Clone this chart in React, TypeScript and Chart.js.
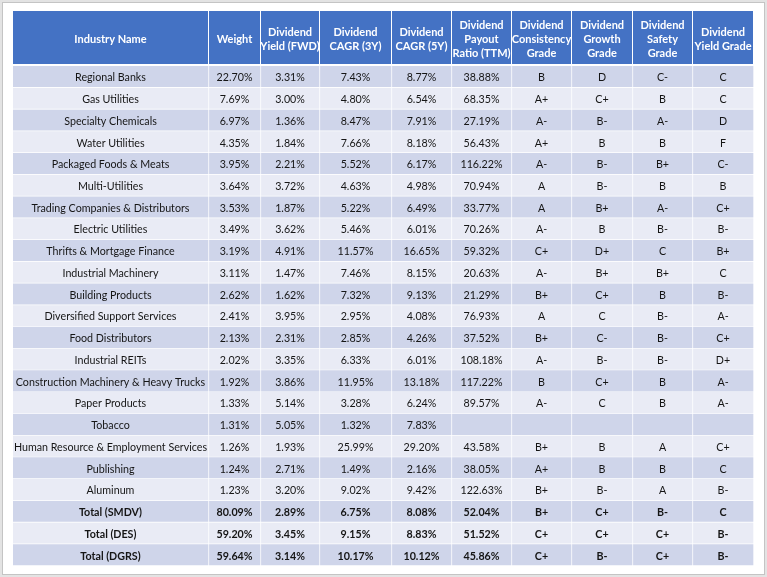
import React, { useEffect, useRef } from 'react';
import { Chart, registerables } from 'chart.js';

Chart.register(...registerables);

// ---------- data ----------
const headerLabels: string[][] = [
  ['Industry Name'],
  ['Weight'],
  ['Dividend', 'Yield (FWD)'],
  ['Dividend', 'CAGR (3Y)'],
  ['Dividend', 'CAGR (5Y)'],
  ['Dividend', 'Payout', 'Ratio (TTM)'],
  ['Dividend', 'Consistency', 'Grade'],
  ['Dividend', 'Growth', 'Grade'],
  ['Dividend', 'Safety', 'Grade'],
  ['Dividend', 'Yield Grade'],
];

const industries = [
  'Regional Banks',
  'Gas Utilities',
  'Specialty Chemicals',
  'Water Utilities',
  'Packaged Foods & Meats',
  'Multi-Utilities',
  'Trading Companies & Distributors',
  'Electric Utilities',
  'Thrifts & Mortgage Finance',
  'Industrial Machinery',
  'Building Products',
  'Diversified Support Services',
  'Food Distributors',
  'Industrial REITs',
  'Construction Machinery & Heavy Trucks',
  'Paper Products',
  'Tobacco',
  'Human Resource & Employment Services',
  'Publishing',
  'Aluminum',
  'Total (SMDV)',
  'Total (DES)',
  'Total (DGRS)',
];

const weights = [22.70, 7.69, 6.97, 4.35, 3.95, 3.64, 3.53, 3.49, 3.19, 3.11, 2.62, 2.41, 2.13, 2.02, 1.92, 1.33, 1.31, 1.26, 1.24, 1.23, 80.09, 59.20, 59.64];
const yieldFwd = [3.31, 3.00, 1.36, 1.84, 2.21, 3.72, 1.87, 3.62, 4.91, 1.47, 1.62, 3.95, 2.31, 3.35, 3.86, 5.14, 5.05, 1.93, 2.71, 3.20, 2.89, 3.45, 3.14];
const cagr3y = [7.43, 4.80, 8.47, 7.66, 5.52, 4.63, 5.22, 5.46, 11.57, 7.46, 7.32, 2.95, 2.85, 6.33, 11.95, 3.28, 1.32, 25.99, 1.49, 9.02, 6.75, 9.15, 10.17];
const cagr5y = [8.77, 6.54, 7.91, 8.18, 6.17, 4.98, 6.49, 6.01, 16.65, 8.15, 9.13, 4.08, 4.26, 6.01, 13.18, 6.24, 7.83, 29.20, 2.16, 9.42, 8.08, 8.83, 10.12];
const payout: (number | null)[] = [38.88, 68.35, 27.19, 56.43, 116.22, 70.94, 33.77, 70.26, 59.32, 20.63, 21.29, 76.93, 37.52, 108.18, 117.22, 89.57, null, 43.58, 38.05, 122.63, 52.04, 51.52, 45.86];
const consistency = ['B', 'A+', 'A-', 'A+', 'A-', 'A', 'A', 'A-', 'C+', 'A-', 'B+', 'A', 'B+', 'A-', 'B', 'A-', '', 'B+', 'A+', 'B+', 'B+', 'C+', 'C+'];
const growth = ['D', 'C+', 'B-', 'B', 'B-', 'B-', 'B+', 'B', 'D+', 'B+', 'C+', 'C', 'C-', 'B-', 'C+', 'C', '', 'B', 'B', 'B-', 'C+', 'C+', 'B-'];
const safety = ['C-', 'B', 'A-', 'B', 'B+', 'B', 'A-', 'B-', 'C', 'B+', 'B', 'B-', 'B-', 'B-', 'B', 'B', '', 'A', 'B', 'A', 'B-', 'C+', 'C+'];
const yieldGrade = ['C', 'C', 'D', 'F', 'C-', 'B', 'C+', 'B-', 'B+', 'C', 'B-', 'A-', 'C+', 'D+', 'A-', 'A-', '', 'C+', 'C', 'B-', 'C', 'B-', 'B-'];
const totalRowsStart = 20;

// ---------- layout / style ----------
const W = 767;
const H = 577;
const colWidths = [196, 52, 59, 72, 60, 60, 60, 61, 60, 61];
const HEADER_H = 53;
const HEADER_GAP = 2;
const FONT = 'Lato, "Open Sans", sans-serif';
const BLUE = '#4472C4';
const DARK_ROW = '#CFD5EA';
const LIGHT_ROW = '#E9EBF5';

const edges: number[] = colWidths.reduce((acc: number[], w) => {
  acc.push(acc[acc.length - 1] + w);
  return acc;
}, [0]);
const totalW = edges[edges.length - 1];

const pct = (v: number | null) => (v === null ? '' : v.toFixed(2) + '%');

export default function App() {
  const ref = useRef<HTMLCanvasElement>(null);

  useEffect(() => {
    if (!ref.current) return;
    const cells: string[][] = industries.map((name, i) => [
      name,
      pct(weights[i]),
      pct(yieldFwd[i]),
      pct(cagr3y[i]),
      pct(cagr5y[i]),
      pct(payout[i]),
      consistency[i],
      growth[i],
      safety[i],
      yieldGrade[i],
    ]);

    const datasets = colWidths.map((_, j) => ({
      label: headerLabels[j].join(' '),
      data: industries.map(() => [edges[j], edges[j + 1]] as [number, number]),
      backgroundColor: industries.map((_, i) => (i % 2 === 0 ? DARK_ROW : LIGHT_ROW)),
      borderColor: '#FFFFFF',
      borderWidth: { top: 0, left: 0, right: 1, bottom: 1 },
      borderSkipped: false as const,
      grouped: false,
      barPercentage: 1,
      categoryPercentage: 1,
    }));

    const framePlugin = {
      id: 'frame',
      beforeDraw(chart: any) {
        const ctx = chart.ctx;
        ctx.save();
        ctx.fillStyle = '#E3E3E3';
        ctx.fillRect(0, 0, W, H);
        ctx.fillStyle = '#FFFFFF';
        ctx.fillRect(3, 3, W - 6, H - 6);
        ctx.strokeStyle = '#C4C4C4';
        ctx.lineWidth = 1;
        ctx.strokeRect(2.5, 2.5, W - 5, H - 5);
        ctx.restore();
      },
    };

    const tablePlugin = {
      id: 'tableText',
      afterDatasetsDraw(chart: any) {
        const ctx = chart.ctx;
        const xs = chart.scales.x;
        const ys = chart.scales.y;
        const top = chart.chartArea.top;
        ctx.save();
        // header
        const hTop = top - HEADER_GAP - HEADER_H;
        for (let j = 0; j < colWidths.length; j++) {
          const x0 = xs.getPixelForValue(edges[j]);
          const x1 = xs.getPixelForValue(edges[j + 1]);
          ctx.fillStyle = BLUE;
          ctx.fillRect(x0, hTop, x1 - x0 - 1, HEADER_H);
          const lines = headerLabels[j];
          ctx.fillStyle = '#FFFFFF';
          ctx.font = `bold 11px ${FONT}`;
          ctx.textAlign = 'center';
          ctx.textBaseline = 'middle';
          const lh = 14;
          const cy = hTop + HEADER_H / 2 + 1.5;
          lines.forEach((ln, k) => {
            ctx.fillText(ln, (x0 + x1 - 1) / 2, cy + (k - (lines.length - 1) / 2) * lh);
          });
        }
        // body text
        ctx.fillStyle = '#151515';
        ctx.textAlign = 'center';
        ctx.textBaseline = 'middle';
        cells.forEach((row, i) => {
          ctx.font = `${i >= totalRowsStart ? 'bold ' : ''}10.7px ${FONT}`;
          const cy = ys.getPixelForValue(i);
          row.forEach((txt, j) => {
            if (!txt) return;
            const x0 = xs.getPixelForValue(edges[j]);
            const x1 = xs.getPixelForValue(edges[j + 1]);
            ctx.fillText(txt, (x0 + x1 - 1) / 2, cy + 1);
          });
        });
        ctx.restore();
      },
    };

    const chart = new Chart(ref.current, {
      type: 'bar',
      data: { labels: industries, datasets: datasets as any },
      options: {
        indexAxis: 'y',
        responsive: false,
        maintainAspectRatio: false,
        animation: false,
        layout: { padding: { left: 13, right: W - 13 - totalW, top: 66, bottom: 11 } },
        scales: {
          x: { type: 'linear', min: 0, max: totalW, display: false },
          y: { type: 'category', display: false, offset: true },
        },
        plugins: {
          legend: { display: false },
          tooltip: { enabled: false },
        },
      } as any,
      plugins: [framePlugin, tablePlugin],
    });
    return () => chart.destroy();
  }, []);

  return (
    <canvas
      ref={ref}
      width={W}
      height={H}
      style={{ position: 'fixed', left: 0, top: 0, width: W, height: H }}
    />
  );
}
